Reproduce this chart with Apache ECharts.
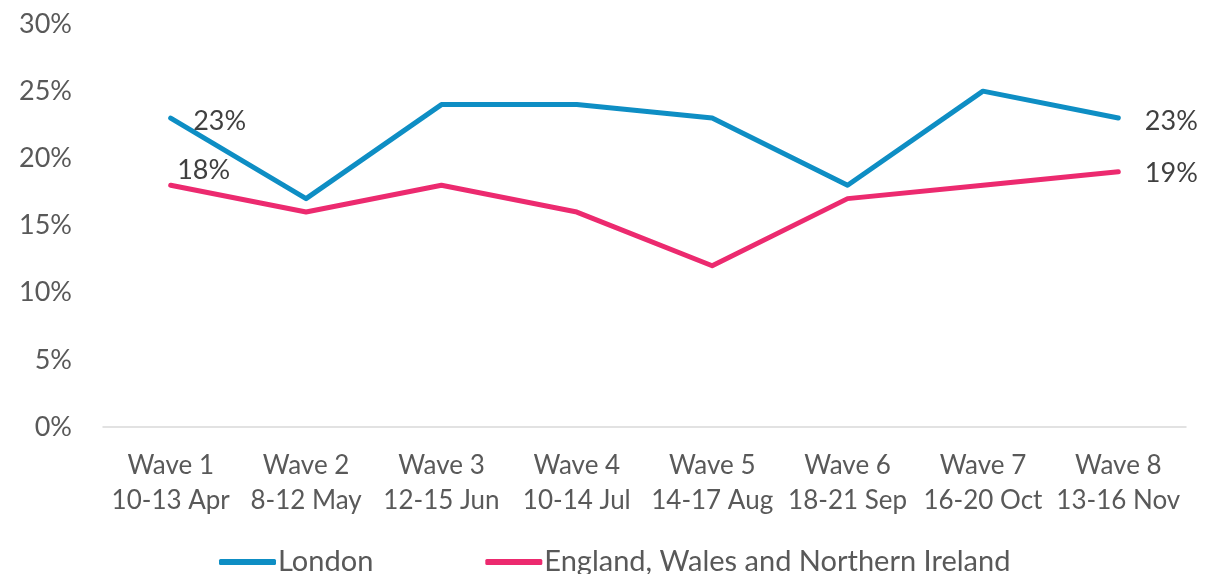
<!DOCTYPE html>
<html>
<head>
<meta charset="utf-8">
<script src="https://cdn.jsdelivr.net/npm/echarts@6/dist/echarts.min.js"></script>
<style>
  html, body { margin: 0; padding: 0; background: #fff; }
  #chart { width: 1221px; height: 574px; }
</style>
</head>
<body>
<div id="chart"></div>
<script>
// Waves and fieldwork dates
const waves = ['Wave 1\n10-13 Apr', 'Wave 2\n8-12 May', 'Wave 3\n12-15 Jun', 'Wave 4\n10-14 Jul',
  'Wave 5\n14-17 Aug', 'Wave 6\n18-21 Sep', 'Wave 7\n16-20 Oct', 'Wave 8\n13-16 Nov'];
const london = [23, 17, 24, 24, 23, 18, 25, 23];
const ewni = [18, 16, 18, 16, 12, 17, 18, 19];
const yTicks = [0, 5, 10, 15, 20, 25, 30];

const FONT = 'Lato';
const labelStyle = { show: true, formatter: '{c}%', color: '#404040', fontSize: 27, fontFamily: FONT };

// only first and last point get a label
function withEndLabels(vals, first, last) {
  return vals.map((v, i) => {
    if (i === 0) return { value: v, label: Object.assign({}, labelStyle, first) };
    if (i === vals.length - 1) return { value: v, label: Object.assign({}, labelStyle, last) };
    return v;
  });
}

const chart = echarts.init(document.getElementById('chart'));
chart.setOption({
  animation: false,
  grid: { left: 103, right: 35, top: 24, bottom: 147, containLabel: false },
  xAxis: {
    type: 'category',
    data: waves,
    axisLine: { lineStyle: { color: '#d9d9d9', width: 1.5 } },
    axisTick: { show: false },
    axisLabel: { color: '#595959', fontSize: 26, fontFamily: FONT, lineHeight: 35, margin: 21, interval: 0 }
  },
  yAxis: {
    type: 'value',
    min: yTicks[0], max: yTicks[yTicks.length - 1], interval: 5,
    axisLine: { show: false },
    axisTick: { show: false },
    splitLine: { show: false },
    axisLabel: { color: '#595959', fontSize: 27, fontFamily: FONT, margin: 31, formatter: '{value}%' }
  },
  legend: {
    top: 541,
    left: 214,
    itemGap: 112,
    itemWidth: 57,
    itemHeight: 6,
    icon: 'roundRect',
    textStyle: { color: '#595959', fontSize: 29, fontFamily: FONT, lineHeight: 32, padding: [0, 0, 0, -3] },
    data: ['London', 'England, Wales and Northern Ireland']
  },
  series: [
    {
      name: 'London', type: 'line', data: withEndLabels(london,
        { position: 'right', distance: 22, offset: [0, 3] },
        { position: 'right', distance: 26, offset: [0, 3] }),
      symbol: 'circle', symbolSize: 1, showSymbol: true,
      lineStyle: { color: '#0e8ec4', width: 5, cap: 'round', join: 'round' },
      itemStyle: { color: '#0e8ec4' }
    },
    {
      name: 'England, Wales and Northern Ireland', type: 'line', data: withEndLabels(ewni,
        { position: 'right', distance: 6, offset: [0, -15] },
        { position: 'right', distance: 26, offset: [0, 2] }),
      symbol: 'circle', symbolSize: 1, showSymbol: true,
      lineStyle: { color: '#ec2a6f', width: 5, cap: 'round', join: 'round' },
      itemStyle: { color: '#ec2a6f' }
    }
  ]
});
</script>
</body>
</html>
